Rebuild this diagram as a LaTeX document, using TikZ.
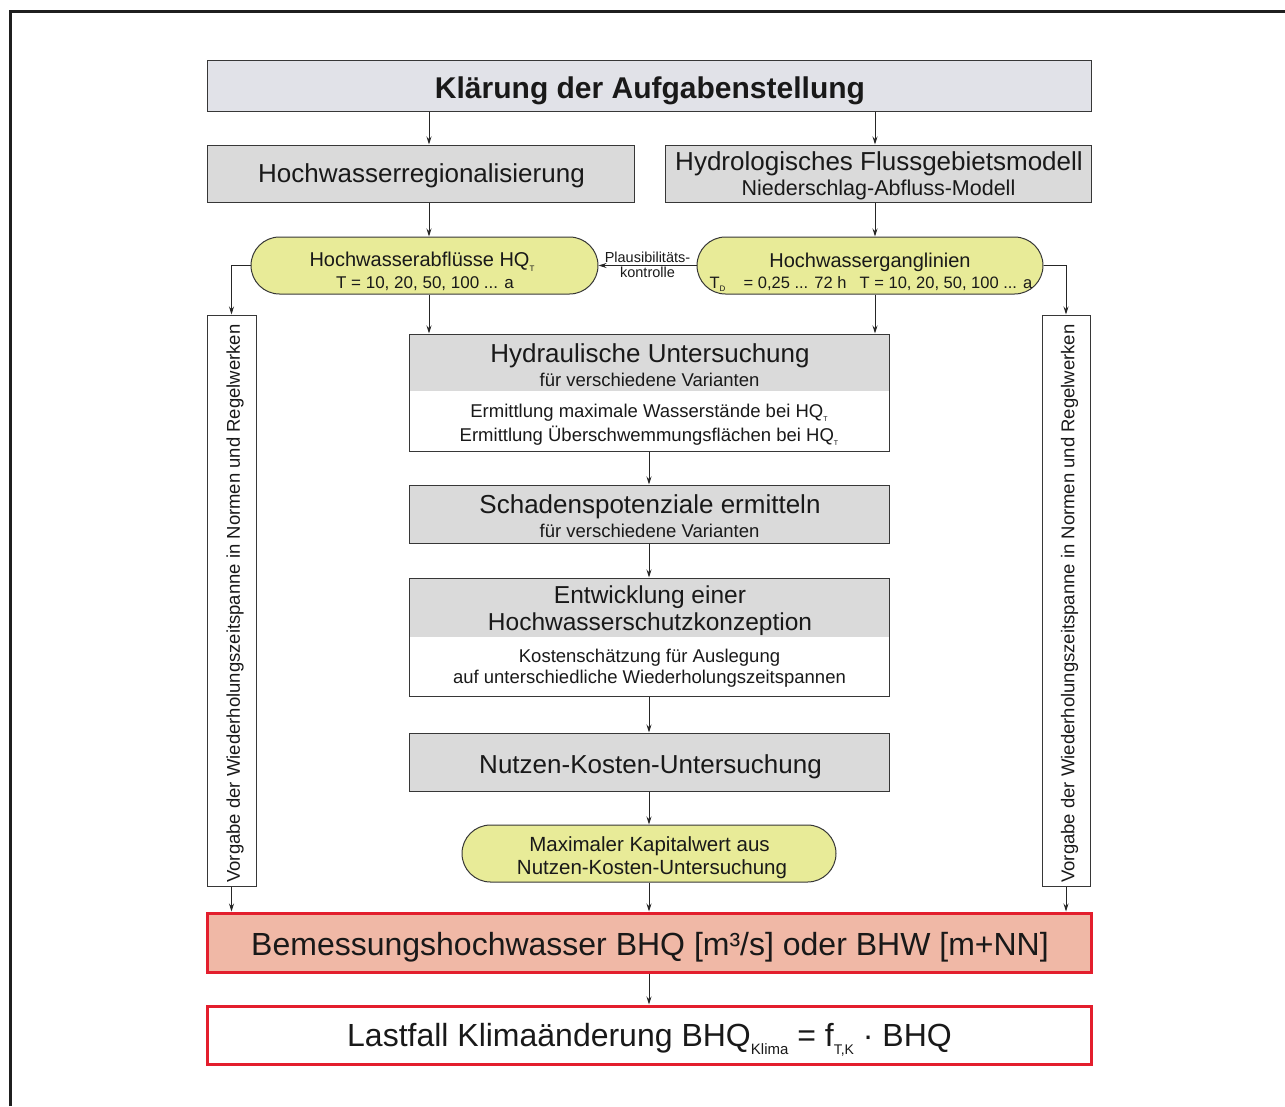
\documentclass[tikz,border=0pt]{standalone}
\usepackage{fontspec}
\setmainfont{Liberation Sans}
\usetikzlibrary{arrows.meta,shapes.misc}
\definecolor{boxgray}{RGB}{218,218,218}
\definecolor{titlegray}{RGB}{225,226,232}
\definecolor{yel}{RGB}{232,235,152}
\definecolor{salmon}{RGB}{240,184,166}
\definecolor{redb}{RGB}{227,30,45}
\definecolor{edge}{RGB}{55,55,55}
\newcommand\mysub[2][8]{\raisebox{-0.45ex}{\fontsize{#1}{#1}\selectfont #2}}
\newcommand\fs[1]{\fontsize{#1}{#1}\selectfont}
\begin{document}
\begin{tikzpicture}[x=1pt,y=-1pt,
  box/.style={draw=edge,line width=1pt,inner sep=0pt,align=center,text=black!90},
  oval/.style={rounded rectangle,draw=edge,line width=1pt,fill=yel,inner sep=0pt},
  txt/.style={inner sep=0pt,align=center,text=black!90,yshift=-3pt},
  arr/.style={-{Stealth[length=8pt,width=5pt]},line width=0.9pt,black!85}]
\useasboundingbox (0,0) rectangle (1285,1106);
% outer frame
\draw[line width=3pt,black!88] (10,1106) -- (10,11) -- (1285,11);
\coordinate (xl) at (429,0);
\coordinate (xr) at (875,0);
% title
\node[box,fill=titlegray,minimum width=884pt,minimum height=51pt] (title) at (649,85.5) {};
\node[txt] (titlet) at (650,87.5) {\fs{30}\bfseries Klärung der Aufgabenstellung};
% second row
\node[box,fill=boxgray,minimum width=427pt,minimum height=57pt] (reg) at (420.5,173.5) {};
\node[txt] (regt) at (421.5,172.5) {\fs{26}Hochwasserregionalisierung};
\node[box,fill=boxgray,minimum width=426pt,minimum height=57pt] (hyfg) at (878,173.5) {};
\node[txt] (hyfg1) at (879,161) {\fs{26}Hydrologisches Flussgebietsmodell};
\node[txt] (hyfg2) at (878.5,187) {\fs{21.5}Niederschlag-Abfluss-Modell};
% ovals
\node[oval,minimum width=347pt,minimum height=57pt] (abfl) at (424.5,265.5) {};
\node[txt] (abfl1) at (422,259) {\fs{20}Hochwasserabflüsse HQ\mysub{T}};
\node[txt] (abfl2) at (425,281) {\fs{17}T = 10, 20, 50, 100 ... a};
\node[oval,minimum width=346pt,minimum height=57pt] (gang) at (870,265.5) {};
\node[txt] (gang1) at (870,259) {\fs{20}Hochwasserganglinien};
\node[txt] (gang2) at (871,281) {\fs{16.5}T\mysub{D}\hspace{1.1em}= 0,25 ... 72 h\hspace{0.8em}T = 10, 20, 50, 100 ... a};
% side boxes
\node[box,minimum width=49pt,minimum height=571pt] (sideL) at (231.5,600.5) {};
\node[txt,rotate=90,yshift=0pt] (sideLt) at (235,600.5) {\fs{18.5}Vorgabe der Wiederholungszeitspanne in Normen und Regelwerken};
\node[box,minimum width=48pt,minimum height=571pt] (sideR) at (1066,600.5) {};
\node[txt,rotate=90,yshift=0pt] (sideRt) at (1069.5,600.5) {\fs{18.5}Vorgabe der Wiederholungszeitspanne in Normen und Regelwerken};
% hydraulische
\node[fill=boxgray,inner sep=0pt,minimum width=480pt,minimum height=57pt] (hydtop) at (649,362.5) {};
\node[box,minimum width=480pt,minimum height=117pt] (hyd) at (649,392.5) {};
\node[txt] (hyd1) at (650,352.5) {\fs{26}Hydraulische Untersuchung};
\node[txt] (hyd2) at (649.5,377) {\fs{18.5}für verschiedene Varianten};
\node[txt] (hyd3) at (649,410) {\fs{18.5}Ermittlung maximale Wasserstände bei HQ\mysub[7]{T}};
\node[txt] (hyd4) at (649,433) {\fs{18.5}Ermittlung Überschwemmungsflächen bei HQ\mysub[7]{T}};
% schaden
\node[box,fill=boxgray,minimum width=480pt,minimum height=58pt] (sch) at (649,514) {};
\node[txt] (sch1) at (650,503.5) {\fs{26}Schadenspotenziale ermitteln};
\node[txt] (sch2) at (649.5,528) {\fs{18.5}für verschiedene Varianten};
% entwicklung
\node[fill=boxgray,inner sep=0pt,minimum width=480pt,minimum height=59pt] (enttop) at (649,607.5) {};
\node[box,minimum width=480pt,minimum height=118pt] (ent) at (649,637) {};
\node[txt] (ent1) at (650,594) {\fs{24.5}Entwicklung einer};
\node[txt] (ent2) at (650,621) {\fs{24.5}Hochwasserschutzkonzeption};
\node[txt] (ent3) at (649.5,655) {\fs{18.5}Kostenschätzung für Auslegung};
\node[txt] (ent4) at (649.5,676) {\fs{18.5}auf unterschiedliche Wiederholungszeitspannen};
% nutzen-kosten
\node[box,fill=boxgray,minimum width=480pt,minimum height=58pt] (nku) at (649,762) {};
\node[txt] (nkut) at (650.5,763.5) {\fs{26}Nutzen-Kosten-Untersuchung};
% kapitalwert
\node[oval,minimum width=374pt,minimum height=57pt] (kap) at (649,853.5) {};
\node[txt] (kap1) at (649.5,843) {\fs{20.5}Maximaler Kapitalwert aus};
\node[txt] (kap2) at (652,866) {\fs{20.5}Nutzen-Kosten-Untersuchung};
% bemessung
\node[box,draw=redb,line width=3pt,fill=salmon,minimum width=884pt,minimum height=59pt] (bhq) at (649,942.5) {};
\node[txt] (bhqt) at (650,944.5) {\fs{32}Bemessungshochwasser BHQ [m³/s] oder BHW [m+NN]};
\node[box,draw=redb,line width=3pt,fill=white,minimum width=884pt,minimum height=58pt] (last) at (649,1035) {};
\node[txt] (lastt) at (649.5,1037) {\fs{32}Lastfall Klimaänderung BHQ\mysub[15]{Klima} = f\mysub[14]{T,K} · BHQ};
% connectors
\draw[arr] (title.south -| xl) -- (reg.north -| xl);
\draw[arr] (title.south -| xr) -- (hyfg.north -| xr);
\draw[arr] (reg.south -| xl) -- (abfl.north -| xl);
\draw[arr] (hyfg.south -| xr) -- (gang.north -| xr);
\draw[arr] (gang.west) -- (abfl.east)
  node[pos=0.5,above=2pt,txt,yshift=3pt] (pl1) {\fs{14.5}Plausibilitäts-}
  node[pos=0.5,below=1pt,txt,yshift=3pt] (pl2) {\fs{14.5}kontrolle};
\draw[arr] (abfl.west) -| (sideL.north);
\draw[arr] (gang.east) -| (sideR.north);
\draw[arr] (abfl.south -| xl) -- (hyd.north -| xl);
\draw[arr] (gang.south -| xr) -- (hyd.north -| xr);
\draw[arr] (hyd.south) -- (sch.north);
\draw[arr] (sch.south) -- (ent.north);
\draw[arr] (ent.south) -- (nku.north);
\draw[arr] (nku.south) -- (kap.north);
\draw[arr] (kap.south) -- (bhq.north);
\draw[arr] (sideL.south) -- (bhq.north -| sideL.south);
\draw[arr] (sideR.south) -- (bhq.north -| sideR.south);
\draw[arr] (bhq.south) -- (last.north);
\end{tikzpicture}
\end{document}
